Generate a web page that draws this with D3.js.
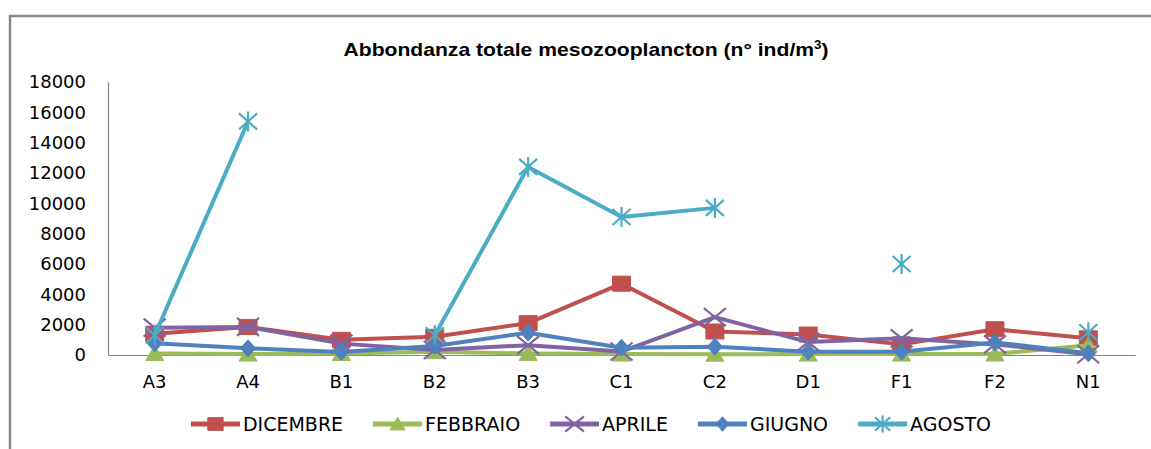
<!DOCTYPE html>
<html>
<head>
<meta charset="utf-8">
<script src="https://cdn.jsdelivr.net/npm/d3@7"></script>
<style>
  html, body { margin: 0; padding: 0; background: #fff; }
  svg { display: block; }
  text { font-family: "DejaVu Sans", sans-serif; fill: #000; }
</style>
</head>
<body>
<script>
// Stations sampled along the transect
const stations = ["A3", "A4", "B1", "B2", "B3", "C1", "C2", "D1", "F1", "F2", "N1"];

// Total mesozooplankton abundance (ind/m³) per sampling month; null = no sample
const dicembre = [1400, 1850, 1000, 1200, 2100, 4700, 1550, 1350, 700, 1700, 1100];
const febbraio = [100, 60, 100, 220, 100, 60, 50, 60, 60, 60, 650];
const aprile   = [1800, 1850, 750, 330, 650, 230, 2500, 850, 1100, 700, 50];
const giugno   = [770, 440, 200, 600, 1470, 480, 550, 220, 220, 830, 110];
const agosto   = [1300, 15400, null, 1300, 12400, 9100, 9700, null, 6000, null, 1500];

const seriesNames = ["DICEMBRE", "FEBBRAIO", "APRILE", "GIUGNO", "AGOSTO"];
const yTicks = [0, 2000, 4000, 6000, 8000, 10000, 12000, 14000, 16000, 18000];

const series = [
  { name: seriesNames[0], values: dicembre, color: "#C0504D", marker: "square" },
  { name: seriesNames[1], values: febbraio, color: "#9BBB59", marker: "triangle" },
  { name: seriesNames[2], values: aprile,   color: "#8064A2", marker: "cross" },
  { name: seriesNames[3], values: giugno,   color: "#4F81BD", marker: "diamond" },
  { name: seriesNames[4], values: agosto,   color: "#4BACC6", marker: "star" }
];

const W = 1151, H = 449;
const plot = { left: 108, right: 1135, top: 82, bottom: 355 };

const svg = d3.select("body").append("svg").attr("width", W).attr("height", H);

// chart frame
svg.append("rect")
  .attr("x", 10).attr("y", 16).attr("width", W + 20).attr("height", H + 20)
  .attr("fill", "#fff").attr("stroke", "#878787").attr("stroke-width", 2.5);

// title
const title = svg.append("text")
  .attr("x", 586).attr("y", 56)
  .attr("text-anchor", "middle")
  .attr("textLength", 485)
  .attr("lengthAdjust", "spacingAndGlyphs")
  .style("font-family", "'Liberation Sans', Arial, sans-serif")
  .style("font-weight", "bold")
  .style("font-size", "19px");
title.append("tspan").text("Abbondanza totale mesozooplancton (n° ind/m");
title.append("tspan").attr("dy", -7).style("font-size", "12px").text("3");
title.append("tspan").attr("dy", 7).text(")");

const x = d3.scaleBand().domain(stations).range([plot.left, plot.right]);
const cx = s => x(s) + x.bandwidth() / 2;
const y = d3.scaleLinear().domain([0, 18000]).range([plot.bottom, plot.top]);

// y axis
const yAxis = svg.append("g").attr("transform", `translate(${plot.left},0)`)
  .call(d3.axisLeft(y).tickValues(yTicks).tickSize(0).tickPadding(22).tickFormat(d3.format("d")));
yAxis.select(".domain").attr("stroke", "#868686").attr("stroke-width", 1.2);
yAxis.selectAll("text").style("font-size", "18px").style("font-family", "'DejaVu Sans', sans-serif");

// x axis
const xAxis = svg.append("g").attr("transform", `translate(0,${plot.bottom})`)
  .call(d3.axisBottom(x).tickSize(0).tickPadding(20));
xAxis.select(".domain").attr("stroke", "#868686").attr("stroke-width", 1.2);
xAxis.selectAll("text").style("font-size", "18px").style("font-family", "'DejaVu Sans', sans-serif");

// marker shapes, centred on (0,0)
function markerPath(type, k) {
  const s = k || 1;
  switch (type) {
    case "square":   return `M${-9*s},${-7.5*s}H${9*s}V${7.5*s}H${-9*s}Z`;
    case "triangle": return `M0,${-8*s}L${9*s},${7*s}L${-9*s},${7*s}Z`;
    case "diamond":  return `M0,${-8.5*s}L${7.5*s},0L0,${8.5*s}L${-7.5*s},0Z`;
    case "cross":    return `M${-11*s},${-9*s}L${11*s},${9*s}M${-11*s},${9*s}L${11*s},${-9*s}`;
    case "star":     return `M${-9*s},${-8*s}L${9*s},${8*s}M${-9*s},${8*s}L${9*s},${-8*s}M0,${-10*s}V${10*s}`;
  }
}
function drawMarker(g, type, color, k) {
  const filled = type === "square" || type === "triangle" || type === "diamond";
  g.append("path")
    .attr("d", markerPath(type, k))
    .attr("fill", filled ? color : "none")
    .attr("stroke", color)
    .attr("stroke-width", filled ? 1 : 2.2)
    .attr("stroke-linejoin", "round");
}

const line = d3.line()
  .defined(d => d.v !== null)
  .x(d => cx(d.s))
  .y(d => y(d.v));

series.forEach(sr => {
  const pts = stations.map((s, i) => ({ s, v: sr.values[i] }));
  const g = svg.append("g");
  g.append("path")
    .datum(pts)
    .attr("d", line)
    .attr("fill", "none")
    .attr("stroke", sr.color)
    .attr("stroke-width", 4)
    .attr("stroke-linejoin", "round")
    .attr("stroke-linecap", "round");
  pts.filter(p => p.v !== null).forEach(p => {
    const m = g.append("g").attr("transform", `translate(${cx(p.s)},${y(p.v)})`);
    drawMarker(m, sr.marker, sr.color);
  });
});

// legend
const legend = svg.append("g");
let lx = 0;
series.forEach(sr => {
  const item = legend.append("g").attr("transform", `translate(${lx},424)`);
  item.append("line").attr("x1", 0).attr("x2", 49).attr("y1", 0).attr("y2", 0)
    .attr("stroke", sr.color).attr("stroke-width", 5);
  const m = item.append("g").attr("transform", "translate(24.5,0)");
  drawMarker(m, sr.marker, sr.color, 0.85);
  const t = item.append("text").attr("x", 52).attr("y", 0).attr("dy", "0.36em")
    .style("font-size", "19px").text(sr.name);
  lx += 52 + t.node().getComputedTextLength() + 30;
});
const legendWidth = lx - 30;
legend.attr("transform", `translate(${591 - legendWidth / 2},0)`);
</script>
</body>
</html>
